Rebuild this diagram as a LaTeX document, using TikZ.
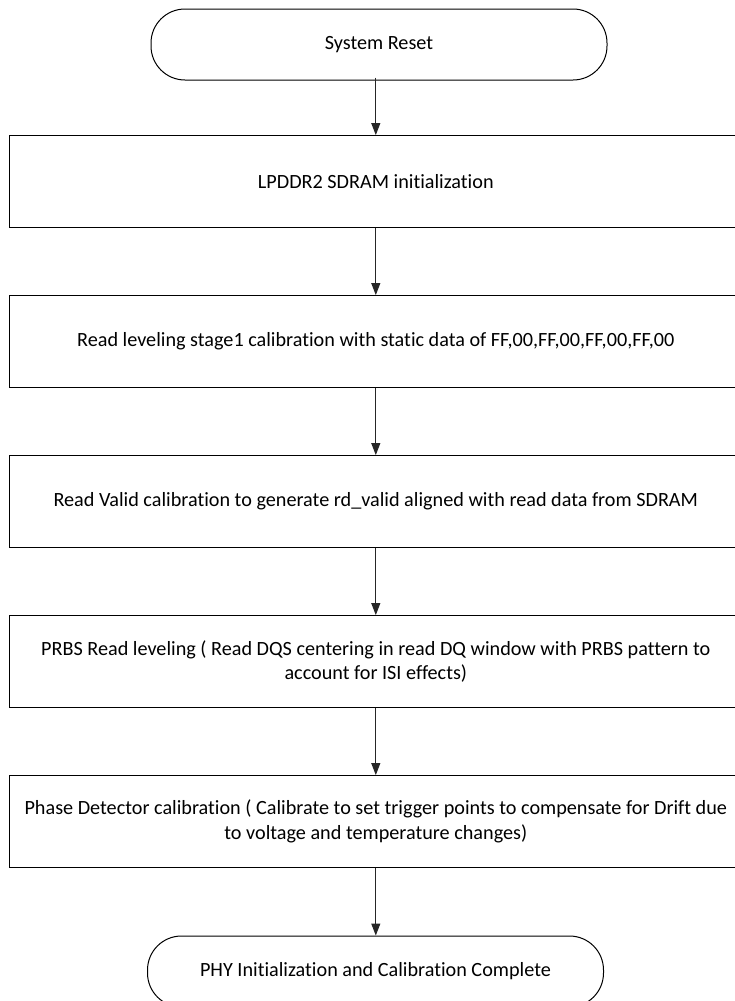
\documentclass[tikz,border=0pt]{standalone}
\usepackage{fontspec}
\setmainfont{Carlito}[Ligatures=CommonOff]
\usetikzlibrary{arrows.meta}
\begin{document}
\begin{tikzpicture}[x=1pt,y=-1pt,
  every node/.style={font=\fontsize{20.2}{24.5}\selectfont},
  stepbox/.style={draw=black,line width=1pt,minimum width=733pt,minimum height=91.5pt,align=center,inner sep=0pt},
  term/.style={draw=black,line width=1pt,minimum width=456pt,minimum height=71pt,rounded corners=34pt,inner sep=0pt},
  flow/.style={draw=black!85,line width=1pt,-{Triangle[length=12pt,width=9pt]}}]
\useasboundingbox (0,0) rectangle (735,1001);
\clip (0,0) rectangle (735,1001);
\fill[white] (0,0) rectangle (735,1001);
\node[term] (start) at (379,44.5) {System Reset};
\node[stepbox] (b1) at (375.8,181.3) {LPDDR2 SDRAM initialization};
\node[stepbox] (b2) at (375.8,341.3) {Read leveling stage1 calibration with static data of FF,00,FF,00,FF,00,FF,00};
\node[stepbox] (b3) at (375.8,501.3) {Read Valid calibration to generate rd\_valid aligned with read data from SDRAM};
\node[stepbox] (b4) at (375.8,661.3) {PRBS Read leveling ( Read DQS centering in read DQ window with PRBS pattern to\\account for ISI effects)};
\node[stepbox] (b5) at (375.8,821.3) {Phase Detector calibration ( Calibrate to set trigger points to compensate for Drift due\\to voltage and temperature changes)};
\node[term] (end) at (375.5,971.5) {PHY Initialization and Calibration Complete};
\coordinate (s0) at ([yshift=3pt]start.south -| b1.north);
\draw[flow] (s0) -- (b1.north);
\draw[flow] (b1.south) -- (b2.north);
\draw[flow] (b2.south) -- (b3.north);
\draw[flow] (b3.south) -- (b4.north);
\draw[flow] (b4.south) -- (b5.north);
\draw[flow] (b5.south) -- (b5.south |- end.north);
\end{tikzpicture}
\end{document}
